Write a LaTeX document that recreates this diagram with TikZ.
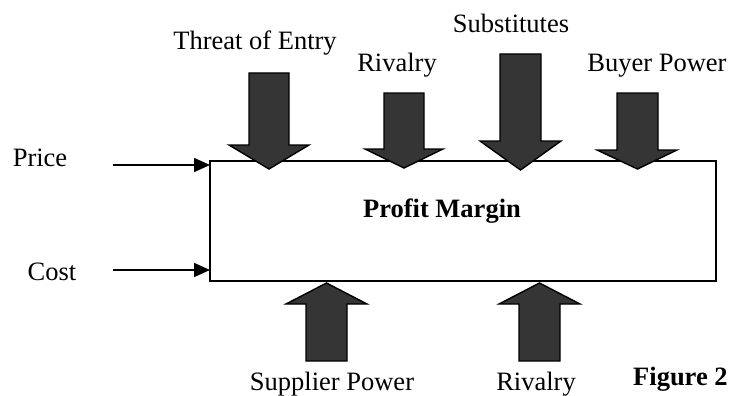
\documentclass[tikz,border=0pt]{standalone}
\usepackage{fontspec}
\setmainfont{Liberation Serif}
\usetikzlibrary{arrows.meta}
\definecolor{arrowfill}{HTML}{353535}
\begin{document}
\begin{tikzpicture}[x=1pt,y=-1pt,
  lbl/.style={font=\fontsize{26.5}{30}\selectfont, inner sep=0pt, anchor=base},
  blockarrow/.style={draw=black, line width=1.4pt, fill=arrowfill, line join=miter},
  inarrow/.style={line width=1.6pt, -{Triangle[length=16pt,width=14pt]}},
  box/.style={draw=black, line width=1.8pt}]
\useasboundingbox (0,0) rectangle (731,396);
% main box
\draw[box] (210,161) rectangle (716,281);
\node[lbl, font=\fontsize{26.5}{30}\selectfont\bfseries] (pm) at (442,217) {Profit Margin};
% block arrows (shaft left, shaft right, shaft end, head base, head left, head right, tip)
\newcommand{\myblockarrow}[7]{%
  \fill[blockarrow] (#1,#3) -- (#2,#3) -- (#2,#4) -- (#6,#4) -- ({(#1+#2)/2},#7) -- (#5,#4) -- (#1,#4) -- cycle;}
\myblockarrow{249}{289}{73}{145}{229}{309}{169}
\myblockarrow{384}{424}{93}{149}{365}{443}{168}
\myblockarrow{500}{541}{54}{141}{480}{561}{170}
\myblockarrow{617}{658}{93}{150}{597}{677}{169}
\myblockarrow{306}{347}{361}{304}{286}{367}{283}
\myblockarrow{519}{560}{361}{304}{499}{580}{283}
% labels
\node[lbl] (te) at (255,50) {Threat of Entry};
\node[lbl] (rt) at (397,71) {Rivalry};
\node[lbl] (sb) at (511,33) {Substitutes};
\node[lbl] (bp) at (657,71) {Buyer Power};
\node[lbl] (sp) at (332,390) {Supplier Power};
\node[lbl] (rb) at (536,390) {Rivalry};
\node[lbl, font=\fontsize{26.5}{30}\selectfont\bfseries, anchor=base west] (fig) at (633,385) {Figure 2};
\node[lbl] (price) at (40,166) {Price};
\node[lbl] (cost) at (52,280) {Cost};
% price & cost connectors
\coordinate (ps) at (113,165);
\coordinate (pe) at (210,165);
\coordinate (cs) at (113,270);
\coordinate (ce) at (210,270);
\draw[inarrow] (ps) -- (pe);
\draw[inarrow] (cs) -- (ce);
\end{tikzpicture}
\end{document}
